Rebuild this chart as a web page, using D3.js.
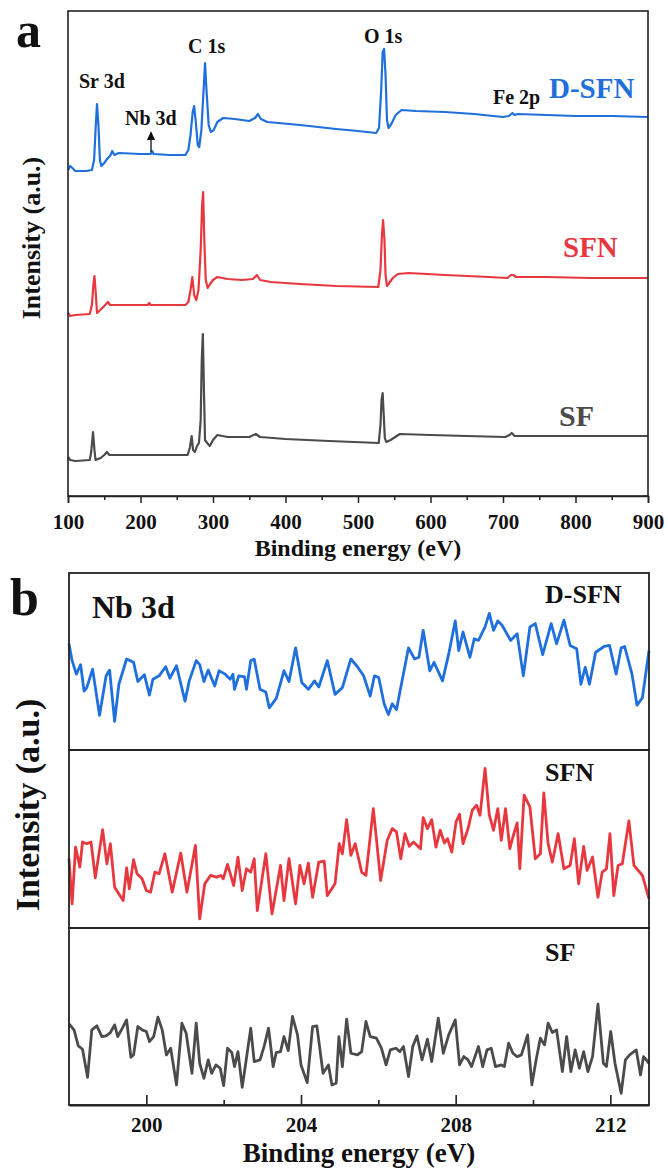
<!DOCTYPE html>
<html><head><meta charset="utf-8">
<script src="https://cdn.jsdelivr.net/npm/d3@7"></script>
<style>
body{margin:0;background:#fff;}
svg text{font-family:"Liberation Serif","Times New Roman",serif;font-weight:bold;}
</style></head>
<body><svg id="c" width="668" height="1169"></svg>
<script>
// ---------- Panel a: XPS survey (eV, intensity a.u.) ----------
const surveyTicks = [100,200,300,400,500,600,700,800,900];
const surveyMinor = [150,250,350,450,550,650,750,850];
const surveySeries = ["D-SFN","SFN","SF"];
const surveyDSFN = [[100,326],[103,330],[106,328],[110,325],[125,325],[133,326],[136,336],[138,366],[140,392],[142,371],[144,336],[146,330],[150,333],[155,338],[158,340],[161,345],[164,341],[170,343],[200,342],[214,342],[216,345],[218,342],[240,341],[262,341],[266,346],[269,361],[272,384],[274,390],[276,376],[279,351],[281,349],[284,366],[287,406],[289,433],[291,406],[294,371],[297,364],[301,366],[306,374],[314,378],[330,377],[350,375],[358,378],[362,382],[366,377],[375,374],[420,371],[470,367],[500,365],[525,363],[529,368],[532,406],[534,444],[536,447],[538,421],[540,376],[542,368],[546,372],[552,381],[560,386],[580,385],[620,384],[660,382],[700,379],[708,380],[713,383],[716,381],[720,382],[760,381],[800,380],[850,380],[900,379]];
const surveySFN = [[100,183],[103,180],[110,181],[130,182],[133,191],[135,211],[136.5,220],[138,206],[140,183],[143,185],[150,190],[155,194],[158,191],[165,191],[210,191],[212,193],[214,191],[262,191],[266,194],[269,206],[271.5,219],[274,201],[277,196],[280,206],[283,246],[285,291],[286.4,304],[288,256],[290,216],[292.7,208],[296,212],[300,216],[306,219],[320,217],[340,216],[355,217],[360.6,221],[365,216],[380,214],[420,212],[470,210],[528,209],[531,226],[533,261],[534.6,276],[536.5,256],[538,221],[540,210],[543,213],[548,218],[555,222],[570,223],[620,221],[680,219],[706,218],[711,221],[714,221],[718,219],[760,219],[820,218],[900,218]];
const surveySF = [[100,39],[103,36],[110,35],[130,36],[132,44],[134.5,64],[136.5,46],[138,36],[145,38],[150,41],[153.6,44],[157,41],[200,41],[265,41],[268,48],[270.6,60],[272.5,46],[275,44],[278,50],[280.6,53],[283,76],[284.5,136],[286,162],[287.5,106],[289,56],[292,53],[295.6,50],[300,56],[306,61],[320,59],[350,59],[359,62],[365,59],[400,57],[460,55],[528.6,53],[531,71],[532.5,96],[534,103],[535.5,81],[537,58],[539,54],[545,56],[557.7,62],[600,61],[650,60],[703,59],[709,61],[712,63],[716,60],[760,60],[850,60],[900,60]];

// ---------- Panel b: Nb 3d region ----------
const nbTicks = [200,204,208,212];
const nbMinor = [202,206,210];
const nbDSFN = [[198.00,350],[198.08,300],[198.19,260],[198.30,288],[198.39,210],[198.46,220],[198.61,275],[198.79,138],[198.96,255],[199.05,272],[199.18,120],[199.29,230],[199.49,305],[199.67,295],[199.78,238],[199.95,258],[200.08,198],[200.17,245],[200.33,255],[200.50,282],[200.61,248],[200.78,285],[201.00,180],[201.11,240],[201.29,300],[201.38,288],[201.49,238],[201.60,272],[201.77,225],[201.88,270],[202.04,260],[202.17,245],[202.24,260],[202.28,215],[202.39,255],[202.54,252],[202.59,215],[202.70,300],[202.79,304],[202.94,215],[203.09,207],[203.18,160],[203.36,188],[203.56,270],[203.69,238],[203.86,338],[204.02,235],[204.19,215],[204.35,240],[204.46,222],[204.68,300],[204.88,200],[205.07,220],[205.29,305],[205.46,282],[205.62,255],[205.79,195],[205.90,255],[206.01,250],[206.15,172],[206.26,140],[206.36,172],[206.47,155],[206.78,338],[206.94,305],[207.05,310],[207.16,390],[207.33,270],[207.44,295],[207.66,240],[207.82,320],[207.99,418],[208.08,330],[208.19,385],[208.37,310],[208.48,365],[208.59,360],[208.76,400],[208.87,440],[208.98,390],[209.09,418],[209.20,405],[209.42,360],[209.59,380],[209.75,255],[209.92,400],[210.06,410],[210.25,318],[210.47,410],[210.61,350],[210.80,420],[210.96,345],[211.13,335],[211.24,230],[211.35,280],[211.46,230],[211.62,325],[211.84,342],[211.98,345],[212.15,260],[212.28,338],[212.37,342],[212.56,260],[212.69,168],[212.83,190],[213.00,330]];
const nbSFN = [[198.00,245],[198.08,110],[198.17,280],[198.28,220],[198.35,295],[198.46,290],[198.57,295],[198.68,188],[198.87,332],[198.98,230],[199.07,290],[199.18,160],[199.40,120],[199.49,218],[199.56,155],[199.67,242],[199.76,200],[199.89,185],[200.00,150],[200.11,145],[200.22,205],[200.33,200],[200.48,260],[200.67,145],[200.89,262],[201.05,145],[201.27,285],[201.38,65],[201.51,170],[201.66,195],[201.82,190],[201.93,195],[201.99,185],[202.10,228],[202.26,165],[202.37,250],[202.48,150],[202.59,215],[202.70,205],[202.79,245],[202.87,90],[203.09,260],[203.25,80],[203.47,225],[203.56,120],[203.69,245],[203.86,110],[203.97,225],[204.08,170],[204.19,232],[204.30,130],[204.46,235],[204.60,238],[204.68,135],[204.88,170],[204.99,290],[205.07,260],[205.18,362],[205.29,255],[205.40,290],[205.57,205],[205.68,195],[205.87,395],[206.06,180],[206.23,300],[206.36,335],[206.47,325],[206.58,245],[206.69,320],[206.80,282],[206.91,295],[207.09,275],[207.16,368],[207.27,335],[207.38,362],[207.49,280],[207.60,330],[207.71,292],[207.79,305],[207.90,265],[208.01,355],[208.10,378],[208.19,290],[208.32,335],[208.43,390],[208.54,405],[208.63,375],[208.76,515],[208.87,375],[208.98,330],[209.09,395],[209.18,300],[209.29,395],[209.40,275],[209.48,310],[209.59,352],[209.66,215],[209.77,435],[209.92,400],[210.06,245],[210.19,260],[210.28,442],[210.39,290],[210.50,235],[210.65,320],[210.80,215],[210.96,225],[211.07,305],[211.18,170],[211.31,282],[211.40,210],[211.54,250],[211.68,130],[211.79,205],[211.90,215],[211.99,320],[212.09,135],[212.20,225],[212.31,230],[212.48,358],[212.61,225],[212.72,210],[212.83,195],[213.00,125]];
const nbSF = [[198.00,288],[198.13,270],[198.24,222],[198.35,212],[198.48,128],[198.59,270],[198.72,282],[198.85,250],[198.96,252],[199.07,262],[199.18,285],[199.26,250],[199.38,275],[199.49,300],[199.60,188],[199.67,195],[199.78,280],[199.89,270],[200.00,265],[200.08,235],[200.19,250],[200.30,308],[200.41,270],[200.52,195],[200.63,215],[200.78,105],[200.92,290],[201.03,260],[201.18,140],[201.29,290],[201.38,170],[201.49,125],[201.60,180],[201.69,140],[201.80,165],[201.91,155],[202.00,103],[202.10,215],[202.21,202],[202.28,160],[202.37,205],[202.48,98],[202.57,170],[202.70,275],[202.79,175],[202.94,180],[203.05,222],[203.16,275],[203.28,160],[203.36,202],[203.47,205],[203.56,250],[203.67,208],[203.78,310],[203.91,255],[204.00,165],[204.16,112],[204.30,280],[204.41,282],[204.57,140],[204.71,165],[204.80,105],[204.91,110],[204.98,250],[205.07,160],[205.18,302],[205.29,200],[205.46,195],[205.57,205],[205.68,295],[205.79,250],[205.95,245],[206.08,215],[206.20,165],[206.31,210],[206.45,215],[206.56,205],[206.65,220],[206.78,130],[206.89,220],[207.00,252],[207.13,180],[207.27,242],[207.38,175],[207.55,305],[207.68,200],[207.82,255],[207.99,300],[208.10,165],[208.21,190],[208.32,180],[208.41,160],[208.59,220],[208.70,160],[208.81,210],[208.92,215],[209.03,160],[209.18,165],[209.26,160],[209.37,230],[209.48,200],[209.59,190],[209.70,195],[209.86,255],[209.97,105],[210.08,180],[210.19,245],[210.30,225],[210.39,290],[210.50,262],[210.61,270],[210.76,145],[210.87,250],[210.98,145],[211.09,210],[211.20,155],[211.31,205],[211.42,145],[211.54,190],[211.68,347],[211.82,170],[211.90,160],[212.01,265],[212.12,170],[212.28,80],[212.39,180],[212.50,195],[212.67,210],[212.78,135],[212.86,190],[213.00,170]];

const colors = {"D-SFN":"#1f6fdc","SFN":"#e8383f","SF":"#4b4b4b"};

const svg = d3.select("#c");
const font = '"Liberation Serif","Times New Roman",serif';

// ===== Panel a =====
const A = {l:68, r:648, t:11, b:496};
const xa = d3.scaleLinear().domain([100,900]).range([A.l, A.r]);
const ya = d3.scaleLinear().domain([0,485]).range([A.b, A.t]);
const ga = svg.append("g");
const lineA = d3.line().x(d=>xa(d[0])).y(d=>ya(d[1]));
[[surveySF,"SF"],[surveySFN,"SFN"],[surveyDSFN,"D-SFN"]].forEach(([d,k])=>{
  ga.append("path").datum(d).attr("d",lineA).attr("fill","none")
    .attr("stroke",colors[k]).attr("stroke-width",2.2).attr("stroke-linejoin","round");
});
ga.append("rect").attr("x",A.l).attr("y",A.t).attr("width",A.r-A.l).attr("height",A.b-A.t)
  .attr("fill","none").attr("stroke","#222").attr("stroke-width",1.6);
const axA = ga.append("g").attr("transform",`translate(0,${A.b})`)
  .call(d3.axisBottom(xa).tickValues(surveyTicks).tickSize(7).tickPadding(11).tickFormat(d3.format("d")));
axA.select(".domain").attr("stroke","#222").attr("stroke-width",1.6);
axA.selectAll(".tick line").attr("stroke","#222").attr("stroke-width",1.5);
axA.selectAll("text").attr("font-size",21).attr("font-family",font).attr("font-weight","bold").attr("fill","#111");
const axA2 = ga.append("g").attr("transform",`translate(0,${A.b})`)
  .call(d3.axisBottom(xa).tickValues(surveyMinor).tickSize(4).tickFormat(""));
axA2.select(".domain").remove();
axA2.selectAll(".tick line").attr("stroke","#222").attr("stroke-width",1.5);
ga.append("text").attr("x",(A.l+A.r)/2).attr("y",556).attr("text-anchor","middle")
  .attr("font-size",24).attr("fill","#111").text("Binding energy (eV)");
ga.append("text").attr("transform","translate(40,238) rotate(-90)").attr("text-anchor","middle")
  .attr("font-size",26).attr("fill","#111").text("Intensity (a.u.)");
ga.append("text").attr("x",16).attr("y",47).attr("font-size",50).attr("fill","#111").text("a");

const ann = [["Sr 3d",79,88],["Nb 3d",125,125],["C 1s",188,53],["O 1s",364,43],["Fe 2p",493,104]];
ann.forEach(([t,x,y])=>ga.append("text").attr("x",x).attr("y",y).attr("font-size",20).attr("fill","#111").text(t));
// arrow for Nb 3d
ga.append("line").attr("x1",151).attr("x2",151).attr("y1",152).attr("y2",138).attr("stroke","#111").attr("stroke-width",1.3);
ga.append("path").attr("d","M147,140 L151,131 L155,140 Z").attr("fill","#111");
ga.append("text").attr("x",549).attr("y",98).attr("font-size",29).attr("fill",colors["D-SFN"]).text("D-SFN");
ga.append("text").attr("x",563).attr("y",257).attr("font-size",29).attr("fill",colors["SFN"]).text("SFN");
ga.append("text").attr("x",559).attr("y",426).attr("font-size",30).attr("fill",colors["SF"]).text("SF");

// ===== Panel b =====
const B = {l:69, r:649, tops:[573,750,928], b:1105};
const xb = d3.scaleLinear().domain([198,213]).range([B.l, B.r]);
const gb = svg.append("g");
const nbSets = [[nbDSFN,"D-SFN",[35,560],603],[nbSFN,"SFN",[38,570],781],[nbSF,"SF",[45,575],961]];
nbSets.forEach(([d,k,dom,ly],i)=>{
  const top = B.tops[i], bot = i<2 ? B.tops[i+1] : B.b;
  const y = d3.scaleLinear().domain(dom).range([bot, top]);
  const ln = d3.line().x(p=>xb(p[0])).y(p=>y(p[1]));
  gb.append("path").datum(d).attr("d",ln).attr("fill","none")
    .attr("stroke",colors[k]).attr("stroke-width",2.8).attr("stroke-linejoin","round");
  gb.append("rect").attr("x",B.l).attr("y",top).attr("width",B.r-B.l).attr("height",bot-top)
    .attr("fill","none").attr("stroke","#222").attr("stroke-width",1.8);
  gb.append("text").attr("x",545).attr("y",ly).attr("font-size",26).attr("fill","#111").text(k);
});
const axB = gb.append("g").attr("transform",`translate(0,${B.b})`)
  .call(d3.axisBottom(xb).tickValues(nbTicks).tickSizeInner(-10).tickSizeOuter(0).tickPadding(12).tickFormat(d3.format("d")));
axB.select(".domain").attr("stroke","#222").attr("stroke-width",1.8);
axB.selectAll(".tick line").attr("stroke","#222").attr("stroke-width",1.6);
axB.selectAll("text").attr("font-size",21).attr("font-family",font).attr("font-weight","bold").attr("fill","#111");
const axB2 = gb.append("g").attr("transform",`translate(0,${B.b})`)
  .call(d3.axisBottom(xb).tickValues(nbMinor).tickSizeInner(-5).tickSizeOuter(0).tickFormat(""));
axB2.select(".domain").remove();
axB2.selectAll(".tick line").attr("stroke","#222").attr("stroke-width",1.6);
gb.append("text").attr("x",(B.l+B.r)/2).attr("y",1162).attr("text-anchor","middle")
  .attr("font-size",27).attr("fill","#111").text("Binding energy (eV)");
gb.append("text").attr("transform","translate(39,805) rotate(-90)").attr("text-anchor","middle")
  .attr("font-size",34).attr("fill","#111").text("Intensity (a.u.)");
gb.append("text").attr("x",10).attr("y",615).attr("font-size",52).attr("fill","#111").text("b");
gb.append("text").attr("x",92).attr("y",618).attr("font-size",32).attr("fill","#111").text("Nb 3d");
</script></body></html>
